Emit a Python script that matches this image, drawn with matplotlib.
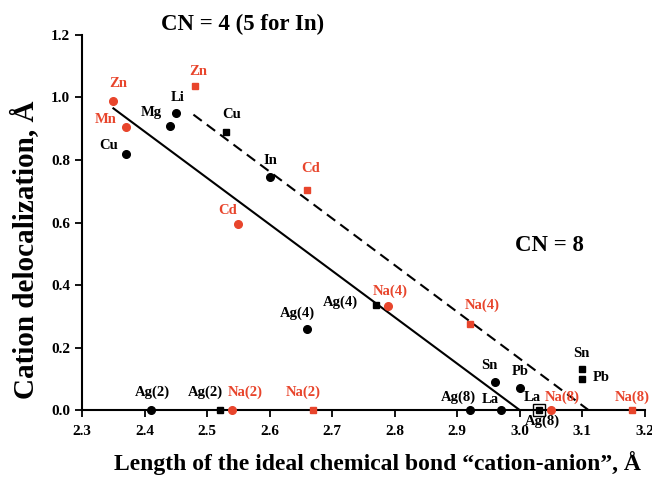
import matplotlib.pyplot as plt

plt.rcParams['font.family'] = ['Liberation Serif', 'DejaVu Serif']
plt.rcParams['font.weight'] = 'bold'

RED = '#e8452c'

# black circles
bc_x = [2.37, 2.44, 2.45, 2.60, 2.66, 2.41, 2.96, 3.00, 2.92, 2.97]
bc_y = [0.82, 0.91, 0.95, 0.745, 0.26, 0.0, 0.09, 0.07, 0.0, 0.0]
bc_lab = ['Cu', 'Mg', 'Li', 'In', 'Ag(4)', 'Ag(2)', 'Sn', 'Pb', 'Ag(8)', 'La']

# black squares
bs_x = [2.53, 2.77, 2.52, 3.10, 3.10, 3.03]
bs_y = [0.89, 0.335, 0.0, 0.13, 0.10, 0.0]
bs_lab = ['Cu', 'Ag(4)', 'Ag(2)', 'Sn', 'Pb', 'La']

# red circles
rc_x = [2.35, 2.37, 2.55, 2.79, 2.54, 3.05]
rc_y = [0.99, 0.905, 0.595, 0.333, 0.0, 0.0]
rc_lab = ['Zn', 'Mn', 'Cd', 'Na(4)', 'Na(2)', 'Na(8)']

# red squares
rs_x = [2.48, 2.66, 2.92, 2.67, 3.18]
rs_y = [1.035, 0.705, 0.275, 0.0, 0.0]
rs_lab = ['Zn', 'Cd', 'Na(4)', 'Na(2)', 'Na(8)']

# open square (Ag(8))
os_x = [3.03]
os_y = [0.0]
os_lab = ['Ag(8)']

# fit lines
solid_x = [2.35, 3.00]
solid_y = [0.965, 0.0]
dash_x = [2.478, 3.11]
dash_y = [0.945, 0.0]

# label offsets in pixels
bc_off = [(-17, 8), (-18, 13), (2, 16), (1, 17), (-10, 16), (1, 18), (-5, 16), (0, 17), (-11, 13), (-11, 11)]
bs_off = [(6, 17), (-36, 3), (-14, 18), (-1, 16), (19, 1), (-6, 13)]
rc_off = [(5, 17), (-20, 8), (-11, 14), (2, 15), (13, 18), (11, 13)]
rs_off = [(4, 15), (3, 21), (12, 19), (-10, 18), (0, 13)]
os_off = [(4, -11)]

fig = plt.figure(figsize=(6.52, 4.78), dpi=100)
ax = fig.add_axes([0.126, 0.142, 0.863, 0.785])

ax.plot(solid_x, solid_y, color='black', lw=1.5, zorder=2)
ax.plot(dash_x, dash_y, color='black', lw=1.5, ls=(0, (5, 3)), zorder=2)

ax.plot(os_x, os_y, 's', ms=8, mfc='none', mec='black', mew=1, zorder=3, clip_on=False)
ax.plot(bc_x, bc_y, 'o', ms=5.5, color='black', zorder=4, clip_on=False)
ax.plot(bs_x, bs_y, 's', ms=5, color='black', zorder=4, clip_on=False)
ax.plot(rc_x, rc_y, 'o', ms=5.5, color=RED, zorder=4, clip_on=False)
ax.plot(rs_x, rs_y, 's', ms=5, color=RED, zorder=4, clip_on=False)

def label(xs, ys, labs, offs, c):
    for x, y, t, o in zip(xs, ys, labs, offs):
        ax.annotate(t, (x, y), xytext=o, textcoords='offset pixels',
                    ha='center', va='center', color=c, fontsize=10.5, fontweight='bold')

label(bc_x, bc_y, bc_lab, bc_off, 'black')
label(bs_x, bs_y, bs_lab, bs_off, 'black')
label(rc_x, rc_y, rc_lab, rc_off, RED)
label(rs_x, rs_y, rs_lab, rs_off, RED)
label(os_x, os_y, os_lab, os_off, 'black')

ax.set_xlim(2.3, 3.2)
ax.set_ylim(0, 1.2)
ax.set_xticks([2.3 + 0.1 * i for i in range(10)])
ax.set_yticks([0.0, 0.2, 0.4, 0.6, 0.8, 1.0, 1.2])
ax.xaxis.set_major_formatter(plt.FormatStrFormatter('%.1f'))
ax.yaxis.set_major_formatter(plt.FormatStrFormatter('%.1f'))
ax.tick_params(labelsize=11, width=1.3, length=5, direction='out')
ax.tick_params(axis='x', pad=6)
for s in ['top', 'right']:
    ax.spines[s].set_visible(False)
for s in ['left', 'bottom']:
    ax.spines[s].set_linewidth(1.5)

ax.set_xlabel('Length of the ideal chemical bond \u201ccation-anion\u201d, \u00c5',
              fontsize=17, fontweight='bold', va='center')
ax.set_ylabel('Cation delocalization, \u00c5', fontsize=21, fontweight='bold', va='center')
ax.xaxis.set_label_coords(0.524, -0.141)
ax.yaxis.set_label_coords(-0.101, 0.427)

ax.text(2.557, 1.232, 'CN = 4 (5 for In)', fontsize=16.5, fontweight='bold', ha='center', va='center')
ax.text(3.048, 0.528, 'CN = 8', fontsize=16.5, fontweight='bold', ha='center', va='center')

fig.savefig('out.png', dpi=100)
